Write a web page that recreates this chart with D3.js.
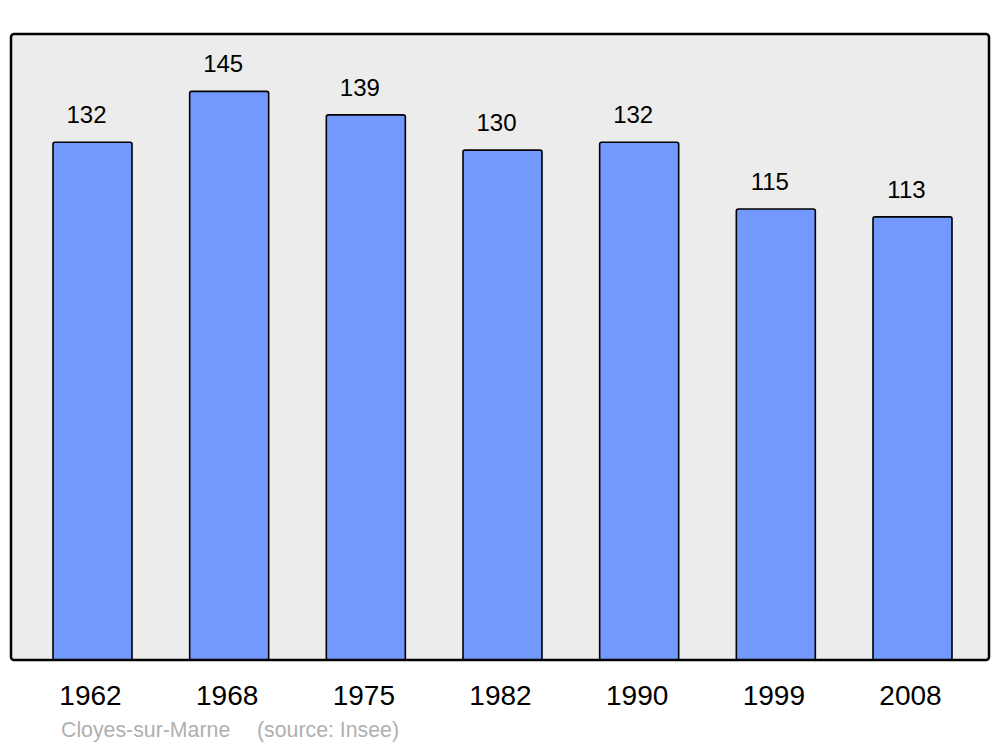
<!DOCTYPE html>
<html><head><meta charset="utf-8">
<script src="https://cdn.jsdelivr.net/npm/d3@7"></script>
<style>body{margin:0;background:#fff}svg{display:block}text{font-family:"Liberation Sans",Arial,sans-serif}</style>
</head><body>
<script>
const years = ["1962","1968","1975","1982","1990","1999","2008"];
const population = [132,145,139,130,132,115,113];
const townName = "Cloyes-sur-Marne";
const sourceText = "(source: Insee)";

const W = 1000, H = 747;
const svg = d3.select("body").append("svg").attr("width", W).attr("height", H);
const panel = {x0: 11, x1: 989, y0: 34, y1: 660};

const step = 136.67;
const x = d3.scaleBand().domain(years)
  .range([92.5 - step/2, 912.5 + step/2])
  .paddingInner(0.422).paddingOuter(0.211);
const y = d3.scaleLinear().domain([0,160]).range([panel.y1, 32.5]);

svg.append("rect").attr("x", panel.x0).attr("y", panel.y0)
  .attr("width", panel.x1 - panel.x0).attr("height", panel.y1 - panel.y0)
  .attr("fill", "#ececec");

svg.selectAll("rect.bar").data(years).enter().append("rect").attr("class","bar")
  .attr("x", d => x(d)).attr("width", x.bandwidth())
  .attr("y", (d,i) => y(population[i]))
  .attr("height", (d,i) => y(0) - y(population[i]))
  .attr("rx", 2).attr("fill", "#7399ff").attr("stroke", "#000").attr("stroke-width", 1.6);

svg.selectAll("text.val").data(years).enter().append("text").attr("class","val")
  .attr("x", d => x(d) + x.bandwidth()/2 - 6)
  .attr("y", (d,i) => y(population[i]) - 19)
  .attr("text-anchor","middle").attr("font-size", 24).attr("fill","#000")
  .text((d,i) => population[i]);

svg.append("rect").attr("x", panel.x0).attr("y", panel.y0)
  .attr("width", panel.x1 - panel.x0).attr("height", panel.y1 - panel.y0)
  .attr("rx", 3).attr("fill", "none").attr("stroke", "#000").attr("stroke-width", 2.5);

svg.selectAll("text.yr").data(years).enter().append("text").attr("class","yr")
  .attr("x", d => x(d) + x.bandwidth()/2 - 2)
  .attr("y", 705)
  .attr("text-anchor","middle").attr("font-size", 28).attr("fill","#000")
  .text(d => d);

svg.append("text").attr("x", 61).attr("y", 737).attr("font-size", 21.3).attr("fill","#b0b0b0").text(townName);
svg.append("text").attr("x", 257).attr("y", 737).attr("font-size", 21.3).attr("fill","#b0b0b0").text(sourceText);
</script>
</body></html>
